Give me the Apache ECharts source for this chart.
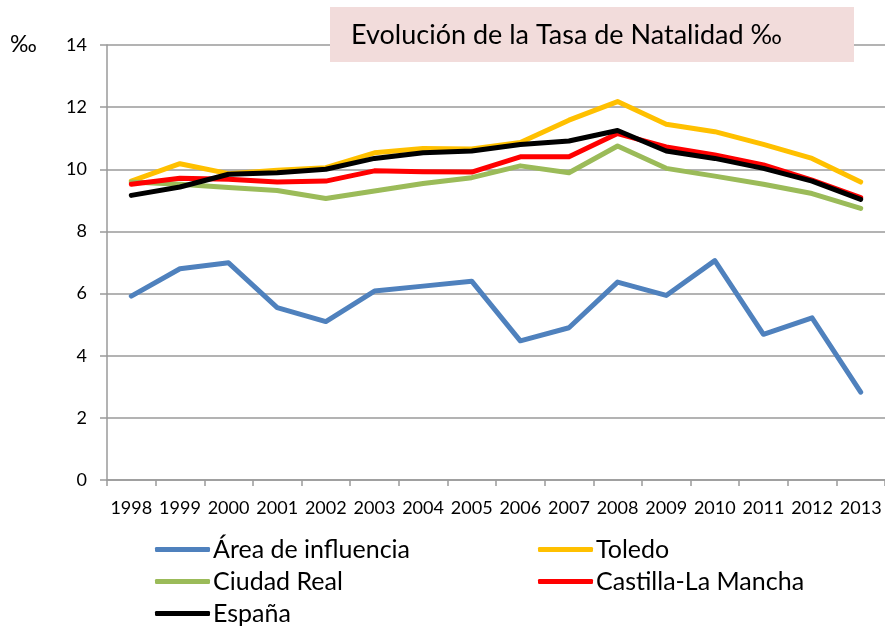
<!DOCTYPE html>
<html>
<head>
    <meta charset="utf-8">
    <title>Tasa de Natalidad</title>
    <script src="https://cdn.jsdelivr.net/npm/echarts@6/dist/echarts.min.js"></script>
    <style type="text/css">
        * { margin: 0; padding: 0; }
        body { background: #fff; }
    </style>
</head>
<body>
<div id="main" style="width: 885px; height: 626px;"></div>
<script type="text/javascript">
    // años del eje x
    var years = ['1998', '1999', '2000', '2001', '2002', '2003', '2004', '2005',
                 '2006', '2007', '2008', '2009', '2010', '2011', '2012', '2013'];

    // tasa de natalidad (‰) por zona
    var areaInfluencia = [5.92, 6.80, 6.99, 5.55, 5.10, 6.08, 6.24, 6.40, 4.48, 4.90, 6.37, 5.94, 7.06, 4.69, 5.22, 2.83];
    var toledo = [9.62, 10.18, 9.86, 9.97, 10.05, 10.53, 10.67, 10.65, 10.86, 11.58, 12.18, 11.45, 11.21, 10.80, 10.35, 9.59];
    var ciudadReal = [9.59, 9.52, 9.41, 9.32, 9.06, 9.30, 9.54, 9.73, 10.11, 9.89, 10.75, 10.03, 9.78, 9.52, 9.22, 8.74];
    var castillaLaMancha = [9.52, 9.71, 9.68, 9.59, 9.62, 9.95, 9.92, 9.91, 10.40, 10.40, 11.15, 10.72, 10.46, 10.14, 9.65, 9.09];
    var espana = [9.16, 9.43, 9.84, 9.89, 10.00, 10.35, 10.53, 10.59, 10.80, 10.91, 11.25, 10.59, 10.35, 10.03, 9.62, 9.03];

    var yTicks = { min: 0, max: 14, interval: 2 };

    var myChart = echarts.init(document.getElementById('main'));

    var font = 'Lato';
    var gridColor = '#9A9A9A';

    function lineSeries(name, data, color) {
        return {
            name: name,
            type: 'line',
            data: data,
            showSymbol: false,
            symbol: 'none',
            animation: false,
            itemStyle: { color: color },
            lineStyle: { color: color, width: 5, cap: 'round', join: 'round' }
        };
    }

    var legendBase = {
        orient: 'vertical',
        top: 537,
        padding: 0,
        itemWidth: 55,
        itemHeight: 5,
        itemGap: 7,
        icon: 'roundRect',
        textStyle: { fontFamily: font, fontSize: 25, lineHeight: 25, color: '#000', padding: [0, 0, 0, -2] }
    };

    var option = {
        backgroundColor: '#fff',
        animation: false,
        grid: { left: 107, right: -1, top: 45, bottom: 146, containLabel: false },
        legend: [
            Object.assign({}, legendBase, { left: 155, data: ['Área de influencia', 'Ciudad Real', 'España'] }),
            Object.assign({}, legendBase, { left: 538, data: ['Toledo', 'Castilla-La Mancha'] })
        ],
        xAxis: {
            type: 'category',
            boundaryGap: true,
            data: years,
            axisLine: { lineStyle: { color: gridColor, width: 1.5 } },
            axisTick: { show: true, length: 6, lineStyle: { color: gridColor, width: 1.5 } },
            axisLabel: { color: '#000', fontFamily: font, fontSize: 18, margin: 19, interval: 0 }
        },
        yAxis: {
            type: 'value',
            min: yTicks.min,
            max: yTicks.max,
            interval: yTicks.interval,
            axisLine: { show: true, lineStyle: { color: gridColor, width: 1.5 } },
            axisTick: { show: true, length: 7, lineStyle: { color: gridColor, width: 1.5 } },
            splitLine: { show: true, lineStyle: { color: gridColor, width: 1.5 } },
            axisLabel: { color: '#000', fontFamily: font, fontSize: 18, margin: 20 }
        },
        graphic: [
            {
                type: 'text',
                left: 10,
                top: 33,
                style: { text: '‰', fontFamily: font, fontSize: 23, fill: '#000' }
            },
            {
                type: 'rect',
                shape: { x: 330, y: 7, width: 524, height: 55 },
                style: { fill: '#F2DCDB' },
                z: 100
            },
            {
                type: 'text',
                x: 351,
                y: 35,
                style: {
                    text: 'Evolución de la Tasa de Natalidad ‰',
                    fontFamily: font, fontSize: 27, fill: '#000',
                    verticalAlign: 'middle'
                },
                z: 101
            }
        ],
        series: [
            lineSeries('Área de influencia', areaInfluencia, '#4F81BD'),
            lineSeries('Toledo', toledo, '#FFC000'),
            lineSeries('Ciudad Real', ciudadReal, '#9BBB59'),
            lineSeries('Castilla-La Mancha', castillaLaMancha, '#FF0000'),
            lineSeries('España', espana, '#000000')
        ]
    };

    myChart.setOption(option);

    window.addEventListener('resize', function () {
        myChart.resize();
    });
</script>
</body>
</html>
